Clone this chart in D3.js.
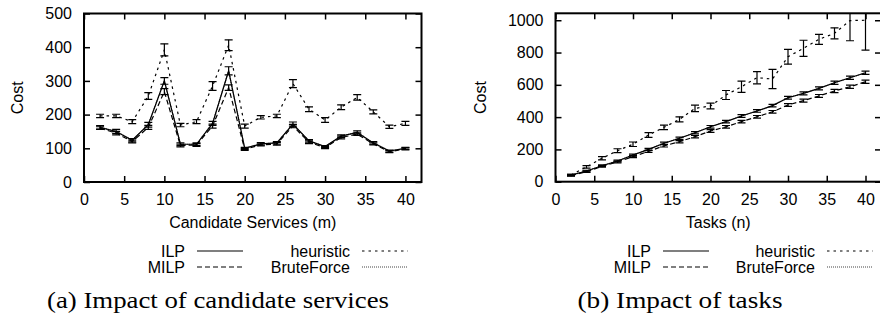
<!DOCTYPE html>
<html>
<head>
<meta charset="utf-8">
<script src="https://cdn.jsdelivr.net/npm/d3@7"></script>
<style>
  body { margin: 0; background: #fff; }
  text { font-family: "Liberation Sans", Arial, sans-serif; fill: #000; }
  text.caption { font-family: "Liberation Serif", "DejaVu Serif", serif; }
</style>
</head>
<body>
<svg id="chart" width="880" height="320"></svg>
<script>
// x values (same for both panels)
const xValues = [2, 4, 6, 8, 10, 12, 14, 16, 18, 20, 22, 24, 26, 28, 30, 32, 34, 36, 38, 40];
const xTicks = [0, 5, 10, 15, 20, 25, 30, 35, 40];

// (a) candidate services
const ilpA = [162, 150, 124, 170, 300, 112, 112, 174, 330, 100, 113, 116, 172, 122, 105, 136, 147, 116, 92, 100];
const ilpErrA = [5, 6, 5, 7, 10, 4, 4, 6, 12, 3, 4, 4, 6, 4, 3, 4, 5, 4, 3, 3];
const milpA = [160, 145, 120, 162, 268, 108, 110, 166, 280, 97, 110, 113, 166, 118, 102, 132, 142, 113, 90, 98];
const milpErrA = [4, 5, 4, 6, 9, 4, 4, 6, 8, 3, 3, 4, 5, 4, 3, 4, 4, 3, 3, 3];
const heurA = [196, 196, 179, 255, 392, 169, 179, 285, 406, 166, 192, 196, 292, 216, 184, 222, 251, 208, 164, 174];
const heurErrA = [5, 5, 6, 10, 18, 5, 6, 13, 16, 6, 5, 5, 12, 7, 7, 7, 8, 6, 5, 6];
const bruteA = [162, 150, 124, 170, 300, 112, 112, 174, 330, 100, 113, 116, 172, 122, 105, 136, 147, 116, 92, 100];
const yTicksA = [0, 100, 200, 300, 400, 500];

// (b) tasks
const ilpB = [41, 66, 99, 128, 165, 200, 238, 269, 303, 340, 372, 407, 438, 471, 520, 547, 578, 613, 644, 675];
const ilpErrB = [4, 5, 5, 6, 6, 6, 7, 7, 7, 8, 8, 8, 8, 8, 9, 9, 9, 10, 10, 10];
const milpB = [38, 62, 95, 122, 155, 188, 222, 248, 279, 314, 340, 372, 402, 433, 475, 502, 531, 562, 588, 619];
const milpErrB = [4, 5, 5, 6, 6, 6, 7, 7, 7, 8, 8, 8, 8, 8, 9, 9, 9, 10, 10, 10];
const heurB = [42, 92, 145, 192, 232, 289, 337, 386, 454, 469, 537, 588, 644, 636, 774, 826, 882, 919, 998, 1000];
const heurErrB = [4, 8, 10, 12, 14, 15, 14, 16, 20, 18, 28, 35, 38, 60, 46, 50, 31, 34, 125, 185];
const bruteB = [41, 66, 99, 128, 165, 200, 238, 269, 303, 340, 372, 407, 438, 471, 520, 547, 578, 613, 644, 675];
const yTicksB = [0, 200, 400, 600, 800, 1000];

const legendNames = ["ILP", "MILP", "heuristic", "BruteForce"];

const styles = {
  ILP: { dash: null, color: "#000" },
  MILP: { dash: "5,3", color: "#000" },
  heuristic: { dash: "2.5,4", color: "#000" },
  BruteForce: { dash: "1,1", color: "#444" }
};

const FS = 16;
const svg = d3.select("#chart");

function drawPanel(p) {
  const x = d3.scaleLinear().domain([0, 42]).range(p.xRange);
  const y = d3.scaleLinear().domain([0, p.yMax]).range([p.yBottom, p.yTop]);
  const g = svg.append("g");

  const clipId = "clip" + p.id;
  svg.append("clipPath").attr("id", clipId).append("rect")
    .attr("x", p.xRange[0]).attr("y", p.yTop)
    .attr("width", p.xRange[1] - p.xRange[0]).attr("height", p.yBottom - p.yTop);

  // axes (ticks mirrored inward on all sides)
  const bottom = g.append("g").attr("transform", "translate(0," + p.yBottom + ")")
    .call(d3.axisBottom(x).tickValues(xTicks).tickSize(-6).tickPadding(12).tickFormat(d3.format("d")));
  const top = g.append("g").attr("transform", "translate(0," + p.yTop + ")")
    .call(d3.axisTop(x).tickValues(xTicks).tickSize(-6).tickFormat(""));
  const left = g.append("g").attr("transform", "translate(" + p.xRange[0] + ",0)")
    .call(d3.axisLeft(y).tickValues(p.yTicks).tickSize(-6).tickPadding(12).tickFormat(d3.format("d")));
  const right = g.append("g").attr("transform", "translate(" + p.xRange[1] + ",0)")
    .call(d3.axisRight(y).tickValues(p.yTicks).tickSize(-6).tickFormat(""));
  [bottom, top, left, right].forEach(a => {
    a.attr("font-family", null).attr("font-size", null);
    a.select(".domain").remove();
    a.selectAll(".tick line").attr("stroke", "#000").attr("stroke-width", 1.5);
    a.selectAll(".tick text").style("font-size", FS + "px");
  });

  // series
  const plot = g.append("g").attr("clip-path", "url(#" + clipId + ")");
  const line = d3.line().x((d, i) => x(xValues[i])).y(d => y(d));
  p.series.forEach(s => {
    const st = styles[s.name];
    plot.append("path").datum(s.values)
      .attr("d", line).attr("fill", "none")
      .attr("stroke", st.color).attr("stroke-width", 1.2)
      .attr("stroke-dasharray", st.dash);
    if (s.errors) {
      const eb = plot.append("g").attr("stroke", "#000").attr("stroke-width", 1.2);
      s.values.forEach((v, i) => {
        const cx = x(xValues[i]);
        const y0 = y(v - s.errors[i]), y1 = y(v + s.errors[i]);
        eb.append("line").attr("x1", cx).attr("x2", cx).attr("y1", y0).attr("y2", y1);
        eb.append("line").attr("x1", cx - 4).attr("x2", cx + 4).attr("y1", y0).attr("y2", y0);
        eb.append("line").attr("x1", cx - 4).attr("x2", cx + 4).attr("y1", y1).attr("y2", y1);
      });
    }
  });

  // frame
  g.append("rect")
    .attr("x", p.xRange[0]).attr("y", p.yTop)
    .attr("width", p.xRange[1] - p.xRange[0]).attr("height", p.yBottom - p.yTop)
    .attr("fill", "none").attr("stroke", "#000").attr("stroke-width", 2);

  // axis titles
  g.append("text")
    .attr("transform", "translate(" + p.yLabelX + "," + ((p.yTop + p.yBottom) / 2) + ") rotate(-90)")
    .attr("text-anchor", "middle").style("font-size", FS + "px").text("Cost");
  g.append("text")
    .attr("x", (p.xRange[0] + p.xRange[1]) / 2).attr("y", 228)
    .attr("text-anchor", "middle").style("font-size", FS + "px").text(p.xTitle);

  // legend (2 columns x 2 rows)
  const rows = [251, 267];
  legendNames.forEach((name, i) => {
    const col = Math.floor(i / 2), row = i % 2;
    const tx = p.legendX[col];
    const cy = rows[row];
    g.append("text").attr("x", tx).attr("y", cy + 5.5)
      .attr("text-anchor", "end").style("font-size", FS + "px").text(name);
    const st = styles[name];
    g.append("line").attr("x1", tx + 12).attr("x2", tx + 58)
      .attr("y1", cy).attr("y2", cy)
      .attr("stroke", st.color).attr("stroke-width", 1.2)
      .attr("stroke-dasharray", st.dash);
  });

  // caption
  g.append("text").attr("class", "caption")
    .attr("x", p.captionX).attr("y", 308)
    .attr("text-anchor", "middle").style("font-size", "23px")
    .attr("textLength", p.captionLen).attr("lengthAdjust", "spacingAndGlyphs")
    .text(p.caption);
}

drawPanel({
  id: "A",
  xRange: [84, 421.5], yTop: 13.5, yBottom: 182, yMax: 500, yTicks: yTicksA,
  yLabelX: 23, xTitle: "Candidate Services (m)",
  legendX: [185, 350],
  caption: "(a) Impact of candidate services", captionX: 218, captionLen: 342,
  series: [
    { name: "BruteForce", values: bruteA },
    { name: "heuristic", values: heurA, errors: heurErrA },
    { name: "MILP", values: milpA, errors: milpErrA },
    { name: "ILP", values: ilpA, errors: ilpErrA }
  ]
});

drawPanel({
  id: "B",
  xRange: [555.5, 881], yTop: 13.3, yBottom: 181.7, yMax: 1043, yTicks: yTicksB,
  yLabelX: 486, xTitle: "Tasks (n)",
  legendX: [651, 815],
  caption: "(b) Impact of tasks", captionX: 680, captionLen: 205,
  series: [
    { name: "BruteForce", values: bruteB },
    { name: "heuristic", values: heurB, errors: heurErrB },
    { name: "MILP", values: milpB, errors: milpErrB },
    { name: "ILP", values: ilpB, errors: ilpErrB }
  ]
});
</script>
</body>
</html>
